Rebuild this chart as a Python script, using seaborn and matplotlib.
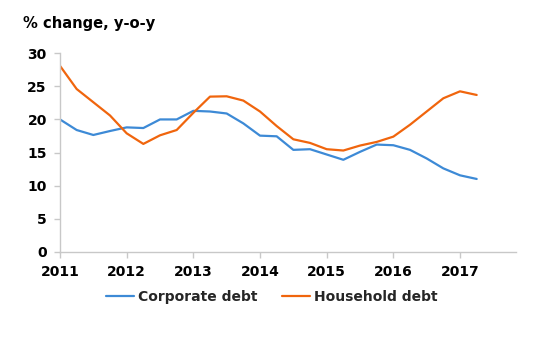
import numpy as np
import pandas as pd
import matplotlib
matplotlib.use("Agg")
import matplotlib.pyplot as plt
import seaborn as sns

# Quarterly observations, 2011 Q1 - 2017 Q2
years = [2011, 2012, 2013, 2014, 2015, 2016, 2017]
quarter_pos = [2011 + i / 4 for i in range(26)]

corporate_debt = [20.0, 18.4, 17.65, 18.25, 18.8, 18.7, 20.0, 20.0,
                  21.3, 21.2, 20.9, 19.4, 17.55, 17.45, 15.4, 15.5,
                  14.7, 13.9, 15.1, 16.2, 16.1, 15.4, 14.1, 12.6,
                  11.55, 11.0]
household_debt = [28.1, 24.6, 22.6, 20.6, 17.9, 16.3, 17.6, 18.4,
                  21.0, 23.45, 23.5, 22.85, 21.2, 19.0, 17.0, 16.45,
                  15.5, 15.3, 16.05, 16.6, 17.4, 19.2, 21.2, 23.2,
                  24.25, 23.7]

series_names = ["Corporate debt", "Household debt"]
series_colors = ["#3d8ad6", "#f0650d"]
y_ticks = [0, 5, 10, 15, 20, 25, 30]
y_label = "% change, y-o-y"

df = pd.DataFrame({
    "period": quarter_pos * 2,
    "value": corporate_debt + household_debt,
    "series": [series_names[0]] * len(corporate_debt)
              + [series_names[1]] * len(household_debt),
})

sns.set_theme(style="white")
plt.rcParams["font.family"] = ["DejaVu Sans"]

fig = plt.figure(figsize=(5.5, 3.45), dpi=100)
ax = fig.add_axes([0.1091, 0.2704, 0.8285, 0.5751])

sns.lineplot(data=df, x="period", y="value", hue="series",
             palette=dict(zip(series_names, series_colors)),
             linewidth=1.6, ax=ax, legend=False)

ax.set_xlim(2011, 2017.835)
ax.set_ylim(0, 30)
ax.set_xticks(years)
ax.set_xticklabels([str(y) for y in years])
ax.set_yticks(y_ticks)
ax.set_xlabel("")
ax.set_ylabel("")

axis_gray = "#c8c8c8"
for side in ("top", "right"):
    ax.spines[side].set_visible(False)
for side in ("left", "bottom"):
    ax.spines[side].set_color(axis_gray)
    ax.spines[side].set_linewidth(1.0)

ax.tick_params(axis="both", which="major", length=4.5, width=1.0,
               color=axis_gray, labelsize=10, labelcolor="black",
               direction="out", left=True, bottom=True)
ax.tick_params(axis="y", pad=5)
ax.tick_params(axis="x", pad=5)
for lbl in ax.get_xticklabels() + ax.get_yticklabels():
    lbl.set_fontweight("bold")

fig.text(23 / 550, 1 - 16 / 345, y_label, ha="left", va="top",
         fontsize=10.6, fontweight="bold", color="black")

handles = [plt.Line2D([], [], color=c, linewidth=1.6) for c in series_colors]
leg = fig.legend(handles, series_names, loc="center",
                 bbox_to_anchor=(272 / 550, 1 - 297 / 345), ncol=2,
                 frameon=False, handlelength=2.0, handletextpad=0.3,
                 columnspacing=1.8, prop={"size": 10, "weight": "bold"})

fig.savefig("out.png", dpi=100, facecolor="white")
